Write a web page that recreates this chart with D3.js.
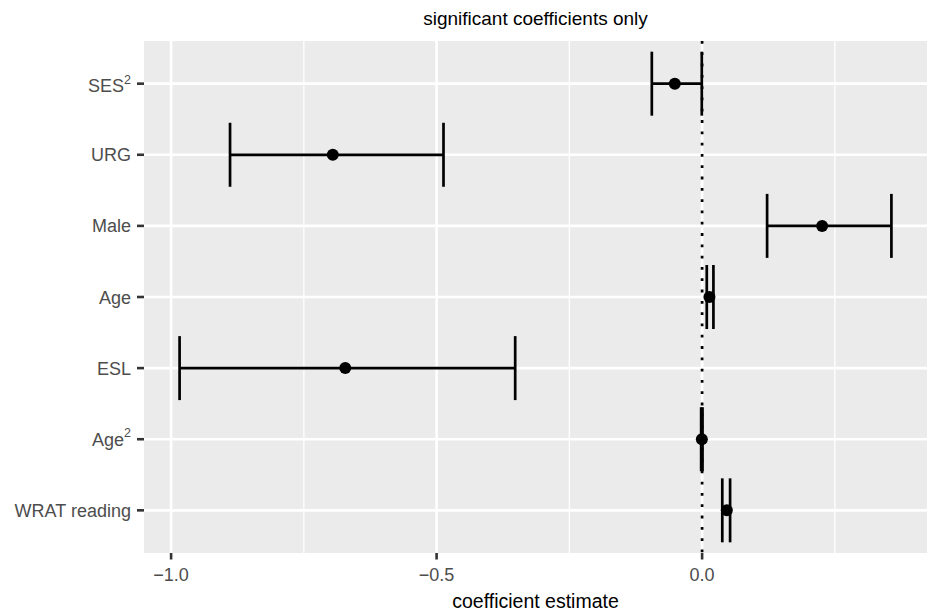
<!doctype html>
<html lang="en">
   <head>
      <meta charset="utf-8">
      <title>significant coefficients only</title>
      <style>
        body{ margin:0; background:#ffffff; }
        svg{ display:block; font-family:"Liberation Sans", Arial, Helvetica, sans-serif; }
      </style>
   </head>
   <body>
      <div id="aqui"></div>
      <script src="https://d3js.org/d3.v7.min.js"></script>
      <script>
         // the data, top to bottom as in the plot
         var terms = ["SES", "URG", "Male", "Age", "ESL", "Age", "WRAT reading"];
         var supers = ["2", "", "", "", "", "2", ""];
         var estimate = [-0.0514, -0.6955, 0.226, 0.0138, -0.672, -0.0005, 0.0465];
         var lower = [-0.0947, -0.889, 0.1224, 0.0088, -0.984, -0.0018, 0.038];
         var upper = [-0.0006, -0.487, 0.3565, 0.0213, -0.352, 0.0008, 0.0527];
         var majorTicks = [-1.0, -0.5, 0.0];
         var minorTicks = [-0.75, -0.25, 0.25];
         var tickLabels = ["\u22121.0", "\u22120.5", "0.0"];

         var w = 934, h = 613;
         // panel edges (note: "top" is taken by window.top, so pTop etc.)
         var pLeft = 144, pRight = 927, pTop = 41, pBottom = 553;

         var data = terms.map(function(t, i) {
           return { key: i, term: t, sup: supers[i], est: estimate[i], lo: lower[i], hi: upper[i] };
         });

         var svg = d3.select("#aqui")
           .append("svg")
           .attr("width", w)
           .attr("height", h);

         // x domain like ggplot: data range plus 5% each side
         var mn = d3.min(lower), mx = d3.max(upper), pad = (mx - mn) * 0.05;
         var x = d3.scaleLinear().domain([mn - pad, mx + pad]).range([pLeft, pRight]);

         // discrete y, 0.6 step padding at each end
         var y = d3.scalePoint().domain(data.map(function(d) { return d.key; }))
           .range([pTop, pBottom]).padding(0.6);
         var half = y.step() * 0.45;

         // panel
         svg.append("rect")
           .attr("x", pLeft).attr("y", pTop)
           .attr("width", pRight - pLeft).attr("height", pBottom - pTop)
           .attr("fill", "#EBEBEB");

         // grid lines
         svg.selectAll("line.minor")
           .data(minorTicks)
           .enter()
           .append("line")
           .attr("x1", function(d) { return x(d); })
           .attr("x2", function(d) { return x(d); })
           .attr("y1", pTop).attr("y2", pBottom)
           .attr("stroke", "#ffffff").attr("stroke-width", 1.3);

         svg.selectAll("line.major")
           .data(majorTicks)
           .enter()
           .append("line")
           .attr("x1", function(d) { return x(d); })
           .attr("x2", function(d) { return x(d); })
           .attr("y1", pTop).attr("y2", pBottom)
           .attr("stroke", "#ffffff").attr("stroke-width", 2.6);

         svg.selectAll("line.hgrid")
           .data(data)
           .enter()
           .append("line")
           .attr("x1", pLeft).attr("x2", pRight)
           .attr("y1", function(d) { return y(d.key); })
           .attr("y2", function(d) { return y(d.key); })
           .attr("stroke", "#ffffff").attr("stroke-width", 2.6);

         // zero line, dotted
         svg.append("line")
           .attr("x1", x(0)).attr("x2", x(0))
           .attr("y1", pTop).attr("y2", pBottom)
           .attr("stroke", "#000000")
           .attr("stroke-width", 2.7)
           .attr("stroke-dasharray", "2.8,8.5");

         // error bars
         var g = svg.selectAll("g.bar")
           .data(data)
           .enter()
           .append("g");

         g.append("line")
           .attr("x1", function(d) { return x(d.lo); })
           .attr("x2", function(d) { return x(d.hi); })
           .attr("y1", function(d) { return y(d.key); })
           .attr("y2", function(d) { return y(d.key); })
           .attr("stroke", "#000000").attr("stroke-width", 2.7);

         g.append("line")
           .attr("x1", function(d) { return x(d.lo); })
           .attr("x2", function(d) { return x(d.lo); })
           .attr("y1", function(d) { return y(d.key) - half; })
           .attr("y2", function(d) { return y(d.key) + half; })
           .attr("stroke", "#000000").attr("stroke-width", 2.7);

         g.append("line")
           .attr("x1", function(d) { return x(d.hi); })
           .attr("x2", function(d) { return x(d.hi); })
           .attr("y1", function(d) { return y(d.key) - half; })
           .attr("y2", function(d) { return y(d.key) + half; })
           .attr("stroke", "#000000").attr("stroke-width", 2.7);

         g.append("circle")
           .attr("cx", function(d) { return x(d.est); })
           .attr("cy", function(d) { return y(d.key); })
           .attr("r", 6)
           .attr("fill", "#000000");

         // x axis ticks and labels
         svg.selectAll("line.xtick")
           .data(majorTicks)
           .enter()
           .append("line")
           .attr("x1", function(d) { return x(d); })
           .attr("x2", function(d) { return x(d); })
           .attr("y1", pBottom).attr("y2", pBottom + 6.5)
           .attr("stroke", "#333333").attr("stroke-width", 2.6);

         svg.selectAll("text.xlab")
           .data(majorTicks)
           .enter()
           .append("text")
           .attr("x", function(d) { return x(d); })
           .attr("y", 580.5)
           .attr("text-anchor", "middle")
           .attr("fill", "#4D4D4D")
           .style("font-size", "18px")
           .text(function(d, i) { return tickLabels[i]; });

         // y axis ticks and labels
         svg.selectAll("line.ytick")
           .data(data)
           .enter()
           .append("line")
           .attr("x1", pLeft - 7).attr("x2", pLeft)
           .attr("y1", function(d) { return y(d.key); })
           .attr("y2", function(d) { return y(d.key); })
           .attr("stroke", "#333333").attr("stroke-width", 2.6);

         var yl = svg.selectAll("text.ylab")
           .data(data)
           .enter()
           .append("text")
           .attr("x", 131)
           .attr("y", function(d) { return y(d.key) + (d.term == "SES" ? 8.5 : 6.5); })
           .attr("text-anchor", "end")
           .attr("fill", "#4D4D4D")
           .style("font-size", "18px");

         yl.append("tspan").text(function(d) { return d.term; });
         yl.filter(function(d) { return d.sup; })
           .append("tspan")
           .attr("dy", -8.5)
           .style("font-size", "12.5px")
           .text(function(d) { return d.sup; });

         // titles
         svg.append("text")
           .attr("x", (pLeft + pRight) / 2)
           .attr("y", 25)
           .attr("text-anchor", "middle")
           .attr("fill", "#000000")
           .style("font-size", "19px")
           .text("significant coefficients only");

         svg.append("text")
           .attr("x", (pLeft + pRight) / 2)
           .attr("y", 608)
           .attr("text-anchor", "middle")
           .attr("fill", "#000000")
           .style("font-size", "19.5px")
           .text("coefficient estimate");
      </script>
   </body>
</html>
